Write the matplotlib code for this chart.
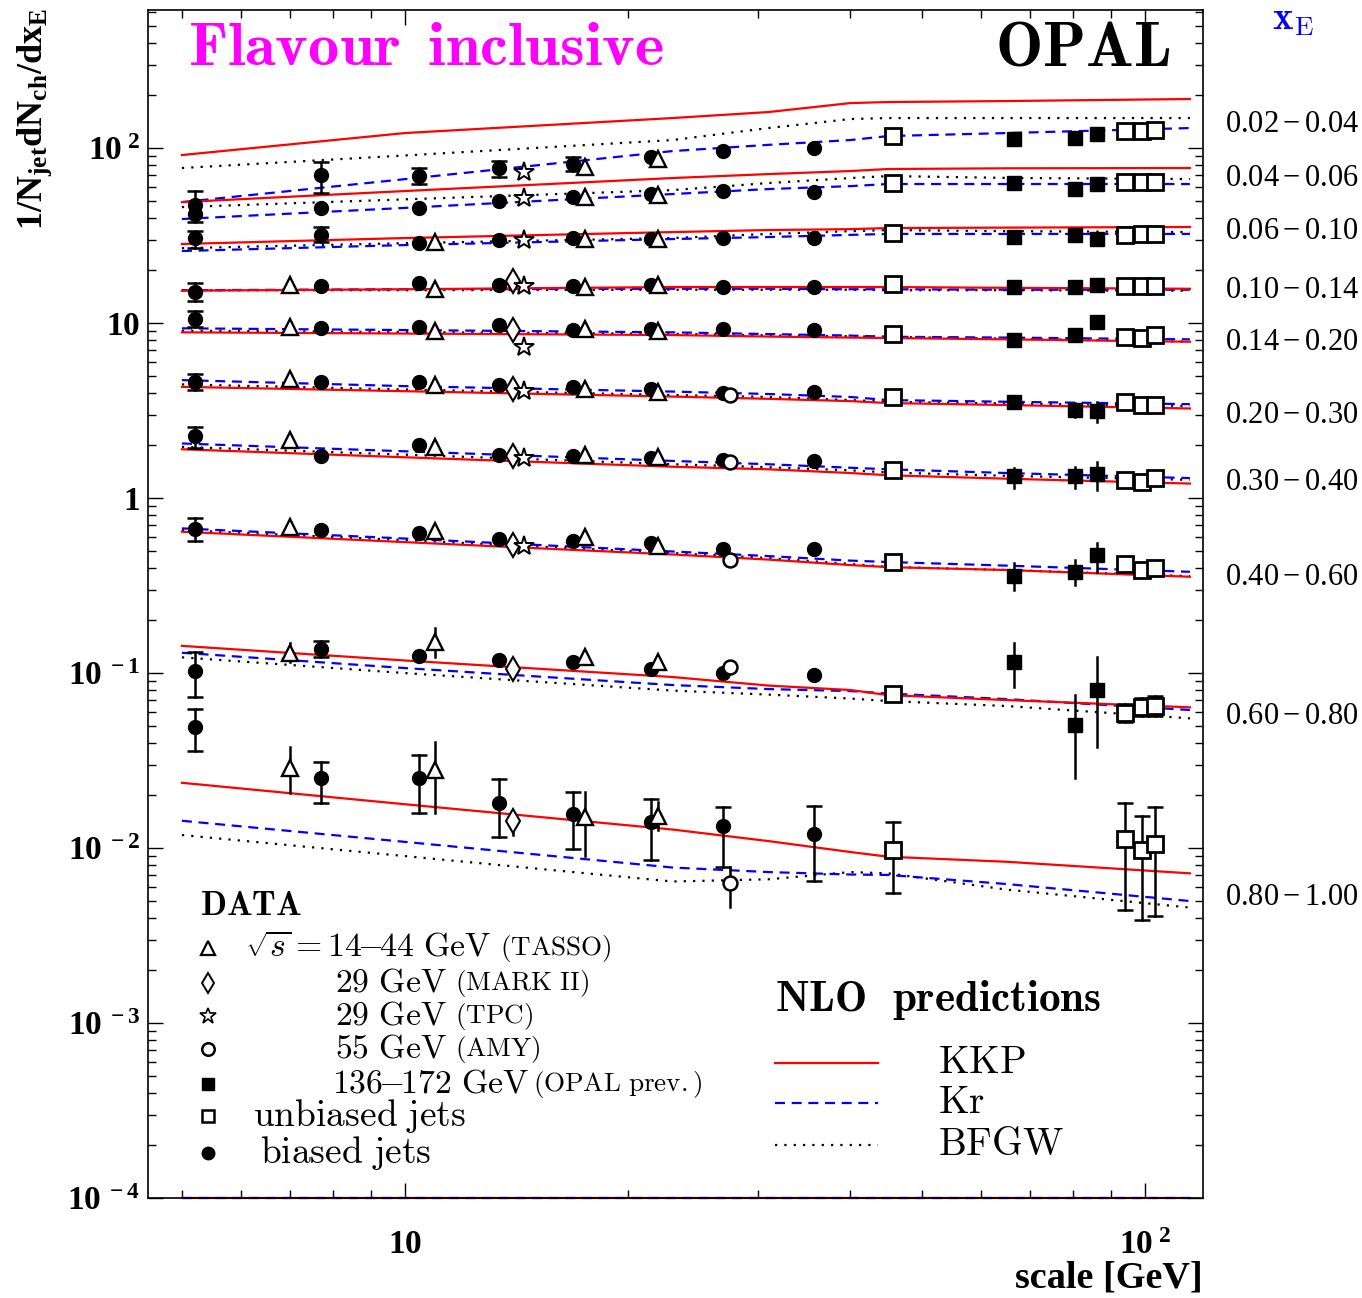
import numpy as np
import matplotlib
matplotlib.use('Agg')
from matplotlib import pyplot as plt
from matplotlib.ticker import LogLocator, NullFormatter

plt.rcParams['font.family'] = 'Liberation Serif'
plt.rcParams['mathtext.fontset'] = 'custom'
plt.rcParams['mathtext.rm'] = 'Liberation Serif'
plt.rcParams['mathtext.it'] = 'Liberation Serif:italic'
plt.rcParams['mathtext.bf'] = 'Liberation Serif:bold'

# x_E bins, top to bottom
xe_bins = ['0.02-0.04', '0.04-0.06', '0.06-0.10', '0.10-0.14', '0.14-0.20',
           '0.20-0.30', '0.30-0.40', '0.40-0.60', '0.60-0.80', '0.80-1.00']
xe_label_y = [137, 67.4, 33.5, 15.4, 7.7, 2.98, 1.23, 0.35, 0.0567, 0.0052]

# NLO predictions (scale in GeV)
x_curve = [5.0, 10, 23, 31, 40, 45, 65, 115]
kkp = [
    [91.2, 121.8, 148.4, 160.6, 180.7, 183.2, 185.6, 190.6],
    [49.1, 56.8, 67.4, 71.0, 73.9, 75.9, 76.6, 76.9],
    [28.3, 30.6, 33.1, 34.0, 34.4, 34.9, 35.1, 35.4],
    [15.3, 15.6, 16.06, 16.06, 16.06, 16.06, 15.9, 15.7],
    [8.85, 8.71, 8.54, 8.37, 8.26, 8.21, 8.07, 7.82],
    [4.32, 4.08, 3.80, 3.69, 3.58, 3.49, 3.40, 3.25],
    [1.90, 1.71, 1.51, 1.46, 1.39, 1.35, 1.29, 1.21],
    [0.642, 0.560, 0.476, 0.445, 0.414, 0.403, 0.388, 0.355],
    [0.143, 0.118, 0.0949, 0.0848, 0.0800, 0.0748, 0.0701, 0.0637],
    [0.0236, 0.0178, 0.01276, 0.01096, 0.00949, 0.00892, 0.00835, 0.00717],
]
kr = [
    [49.1, 66.4, 96.1, 104.3, 111.1, 117.1, 121.8, 130.1],
    [39.3, 45.5, 54.6, 58.3, 60.6, 62.3, 62.3, 62.3],
    [25.8, 27.9, 30.2, 31.0, 31.9, 32.3, 32.3, 32.3],
    [15.4, 15.6, 15.7, 15.7, 15.6, 15.6, 15.5, 15.5],
    [9.33, 9.12, 8.85, 8.65, 8.48, 8.35, 8.26, 8.07],
    [4.72, 4.36, 4.06, 3.93, 3.78, 3.63, 3.55, 3.44],
    [2.05, 1.85, 1.63, 1.56, 1.49, 1.46, 1.39, 1.30],
    [0.671, 0.587, 0.495, 0.466, 0.439, 0.431, 0.411, 0.379],
    [0.1306, 0.1068, 0.0854, 0.0810, 0.0789, 0.0764, 0.0710, 0.0615],
    [0.01432, 0.01085, 0.00774, 0.00729, 0.00706, 0.00702, 0.00623, 0.00498],
]
bfgw = [
    [76.9, 90.7, 111.1, 130.1, 146.5, 148.4, 148.4, 148.4],
    [46.0, 50.9, 57.5, 63.1, 67.4, 69.2, 67.5, 66.5],
    [26.8, 28.6, 30.6, 32.3, 33.5, 34.0, 33.5, 33.1],
    [15.4, 15.4, 15.5, 15.5, 15.5, 15.4, 15.4, 15.3],
    [9.04, 8.88, 8.68, 8.50, 8.40, 8.33, 8.15, 7.82],
    [4.46, 4.17, 3.88, 3.78, 3.63, 3.55, 3.47, 3.36],
    [1.96, 1.77, 1.56, 1.50, 1.44, 1.40, 1.34, 1.27],
    [0.656, 0.575, 0.485, 0.454, 0.420, 0.404, 0.388, 0.358],
    [0.123, 0.100, 0.0794, 0.0753, 0.0715, 0.0692, 0.0648, 0.0551],
    [0.01187, 0.0090, 0.00644, 0.00663, 0.00729, 0.00717, 0.00579, 0.00457],
]

# biased jets (OPAL)
biased_x = [5.2, 7.7, 10.45, 13.4, 16.9, 21.5, 26.9, 35.7]
biased_y = [
    [47.2, 70.2, 69, 76.8, 81, 88.8, 96.1, 100],
    [42, 45.4, 45.4, 50, 52.7, 54.4, 57, 55.8],
    [30.5, 31.9, 28.5, 29.8, 30.5, 30.2, 30.5, 30.7],
    [15.0, 16.3, 17.0, 16.6, 16.3, 16.6, 16.1, 16.1],
    [10.6, 9.4, 9.5, 9.75, 9.1, 9.3, 9.2, 9.1],
    [4.63, 4.58, 4.63, 4.41, 4.3, 4.2, 4.0, 4.04],
    [2.26, 1.75, 2.0, 1.76, 1.73, 1.69, 1.64, 1.62],
    [0.665, 0.66, 0.63, 0.58, 0.57, 0.55, 0.51, 0.51],
    [0.103, 0.138, 0.125, 0.118, 0.115, 0.105, 0.0996, 0.0979],
    [0.0493, 0.0252, 0.0252, 0.0182, 0.0156, 0.0141, 0.0134, 0.0121],
]
biased_err = [  # (scale, low, high)
    (5.2, 37.8, 56.8), (7.7, 55.3, 83.2), (10.45, 62.3, 76.9), (13.4, 68.3, 84.3),
    (16.9, 73.9, 88.9), (5.2, 26.8, 33.5), (7.7, 28.9, 35.2), (5.2, 13.4, 16.9),
    (5.2, 9.53, 11.7), (5.2, 4.14, 5.12), (5.2, 1.94, 2.55), (5.2, 0.568, 0.772),
    (5.2, 0.0732, 0.1324), (5.2, 0.036, 0.0623), (7.7, 0.124, 0.153),
    (7.7, 0.018, 0.0311), (10.45, 0.0158, 0.034), (13.4, 0.0116, 0.0248),
    (16.9, 0.00984, 0.021), (21.5, 0.0086, 0.019), (26.9, 0.00776, 0.0172),
    (35.7, 0.0065, 0.0174),
]

# TASSO
tasso_x = [7.0, 11.0, 17.5, 22.0]
tasso_y = [
    [None, None, 77.8, 86.5],
    [None, None, 52.7, 54],
    [None, 28.9, 30.1, 30.1],
    [16.4, 15.7, 16.1, 16.6],
    [9.5, 9.0, 9.2, 9.0],
    [4.8, 4.44, 4.2, 4.04],
    [2.14, 1.97, 1.76, 1.71],
    [0.68, 0.65, 0.6, 0.53],
    [0.130, 0.151, 0.124, 0.115],
    [0.0288, 0.0280, 0.0151, 0.0152],
]
tasso_err = [(7.0, 0.116, 0.148), (7.0, 0.0206, 0.038), (11.0, 0.123, 0.182),
             (11.0, 0.0158, 0.0405), (17.5, 0.009, 0.021), (22.0, 0.0127, 0.0184)]

# MARK II, TPC, AMY
markii_x = [14.0]
markii_y = [[None], [None], [None], [17.4], [9.1], [4.2], [1.73], [0.54], [0.105], [0.0142]]
markii_err = [(14.0, 0.0119, 0.0161)]
tpc_x = [14.5]
tpc_y = [[73], [52], [29.8], [16.3], [7.3], [4.1], [1.69], [0.53], [None], [None]]
amy_x = [27.5]
amy_y = [[None], [None], [None], [None], [None], [3.9], [1.61], [0.44], [0.109], [0.0063]]
amy_err = [(27.5, 0.00462, 0.00782)]

# OPAL previous (136-172 GeV)
opalprev_x = [66.5, 80.4, 86.1]
opalprev_y = [
    [112.6, 114.5, 120],
    [62.9, 58.1, 62.3],
    [31.1, 31.8, 30.1],
    [16.0, 16.0, 16.4],
    [8.0, 8.6, 10.2],
    [3.54, 3.18, 3.15],
    [1.33, 1.33, 1.37],
    [0.36, 0.38, 0.47],
    [0.115, 0.0502, 0.0805],
    [None, None, None],
]
opalprev_err = [(80.4, 2.92, 3.48), (86.1, 2.73, 3.55), (66.5, 1.14, 1.48),
                (80.4, 1.14, 1.50), (86.1, 1.11, 1.61), (66.5, 0.298, 0.424),
                (80.4, 0.318, 0.442), (86.1, 0.379, 0.555), (66.5, 0.0836, 0.148),
                (80.4, 0.025, 0.0748), (86.1, 0.038, 0.123)]

# unbiased jets (OPAL)
unbiased_x = [45.6, 93.9, 99.1, 103.2]
unbiased_y = [
    [117, 125.6, 125.6, 126.8],
    [62.9, 63.7, 63.7, 63.7],
    [32.6, 31.8, 32.2, 32.2],
    [16.7, 16.2, 16.3, 16.3],
    [8.7, 8.3, 8.2, 8.6],
    [3.8, 3.55, 3.42, 3.42],
    [1.45, 1.26, 1.24, 1.3],
    [0.43, 0.42, 0.39, 0.40],
    [0.0755, 0.0590, 0.0642, 0.065],
    [0.0097, 0.0113, 0.0097, 0.0106],
]
unbiased_err = [(93.9, 0.0527, 0.0665), (99.1, 0.057, 0.0723), (103.2, 0.0565, 0.0743),
                (45.6, 0.0055, 0.014), (93.9, 0.00442, 0.018), (99.1, 0.00388, 0.0152),
                (103.2, 0.0041, 0.0172)]


fig = plt.figure(figsize=(13.62, 12.98), dpi=100)
ax = fig.add_axes([0.1087, 0.0770, 0.7746, 0.9153])
ax.set_xscale('log')
ax.set_yscale('log')
ax.set_xlim(4.5, 119.8)
ax.set_ylim(1e-4, 615)

# curves
for i in range(len(xe_bins)):
    ax.plot(x_curve, bfgw[i], color='black', lw=1.6, dashes=(1, 3.2), zorder=2)
    ax.plot(x_curve, kr[i], color='blue', lw=1.6, dashes=(4.5, 3), zorder=2)
    ax.plot(x_curve, kkp[i], color='red', lw=1.6, zorder=2)
# curves falling below the frame
ax.plot([5.0, 115], [1e-4, 1e-4], color='red', lw=1.6, clip_on=False, zorder=2)
ax.plot([5.0, 115], [1e-4, 1e-4], color='blue', lw=1.6, dashes=(4.5, 3), clip_on=False, zorder=2)


def draw_errors(errs, cap):
    for x, lo, hi in errs:
        ax.plot([x, x], [lo, hi], color='black', lw=1.8, zorder=3)
        if cap:
            ax.plot([x, x], [lo, hi], ls='none', marker='_', ms=11, mew=1.8,
                    color='black', zorder=3)


def draw_points(xs, rows, **style):
    for row in rows:
        px = [x for x, y in zip(xs, row) if y is not None]
        py = [y for y in row if y is not None]
        ax.plot(px, py, ls='none', zorder=4, **style)


draw_errors(biased_err, True)
draw_errors(tasso_err, False)
draw_errors(markii_err, False)
draw_errors(amy_err, False)
draw_errors(opalprev_err, False)
draw_errors(unbiased_err, True)

open_st = dict(mfc='white', mec='black', color='black')
draw_points(biased_x, biased_y, marker='o', ms=10, color='black')
draw_points(tasso_x, tasso_y, marker='^', ms=12, mew=1.7, **open_st)
draw_points(markii_x, markii_y, marker='d', ms=12, mew=1.5, **open_st)
draw_points(tpc_x, tpc_y, marker='*', ms=15, mew=1.4, **open_st)
draw_points(amy_x, amy_y, marker='o', ms=10, mew=1.8, **open_st)
draw_points(opalprev_x, opalprev_y, marker='s', ms=9.5, color='black')
draw_points(unbiased_x, unbiased_y, marker='s', ms=11, mew=2, **open_st)

# axes cosmetics
ax.set_xticks([10, 100], labels=[r'$\mathbf{10}$', r'$\mathbf{10^{\ 2}}$'])
ax.set_yticks([1e-4, 1e-3, 1e-2, 1e-1, 1, 10, 100],
              labels=[r'$\mathbf{10^{\ -4}}$', r'$\mathbf{10^{\ -3}}$', r'$\mathbf{10^{\ -2}}$',
                      r'$\mathbf{10^{\ -1}}$', r'$\mathbf{1}$', r'$\mathbf{10}$',
                      r'$\mathbf{10^{\ 2}}$'])
for axis in (ax.xaxis, ax.yaxis):
    axis.set_minor_locator(LogLocator(base=10, subs=np.arange(2, 10), numticks=60))
    axis.set_minor_formatter(NullFormatter())
ax.tick_params(which='both', direction='in', top=True, right=True, width=1, labelsize=24)
ax.tick_params(which='major', length=11)
ax.tick_params(which='minor', length=5.5)
ax.tick_params(axis='x', pad=23)
ax.tick_params(axis='y', pad=6)
for s in ax.spines.values():
    s.set_linewidth(1.2)

fig.text(35 / 1362, 1 - 8 / 1298, r'$\mathbf{1/N_{jet}dN_{ch}/dx_{E}}$', rotation=90,
         ha='center', va='top', fontsize=26)
ax.set_xlabel('scale [GeV]', fontsize=27.5, fontweight='bold', loc='right', labelpad=0)

T = ax.transAxes


def cm_text(x, y, s, size, **kw):
    # in-frame annotations are typeset in Computer Modern
    ax.text(x, y, s, transform=T, fontsize=size, math_fontfamily='cm',
            va='center', ha='left', clip_on=False, **kw)


cm_text(0.0379, 0.966, r'$\mathbf{Flavour\ \,inclusive}$', 45, color='magenta')
cm_text(0.803, 0.966, r'$\mathbf{OPAL}$', 45.5, color='black')

# x_E bin labels on the right
yt = ax.get_yaxis_transform()
for lab, y in zip(xe_bins, xe_label_y):
    lo, hi = lab.split('-')
    ax.text(1.021, y, r'$%s-%s$' % (lo, hi), transform=yt, fontsize=22,
            va='center', ha='left', clip_on=False)
cm_text(1.065, 0.9916, r'$\mathbf{x}_{\mathrm{E}}$', 28, color='blue')

# data legend
cm_text(0.0493, 0.245, r'$\mathbf{DATA}$', 24.5)
rows_y = [0.2104, 0.181, 0.1532, 0.1254, 0.096, 0.0688, 0.0382]
keys = [dict(marker='^', ms=10, mew=1.6, **open_st),
        dict(marker='d', ms=10, mew=1.4, **open_st),
        dict(marker='*', ms=12, mew=1.2, **open_st),
        dict(marker='o', ms=9, mew=1.8, **open_st),
        dict(marker='s', ms=8, color='black'),
        dict(marker='s', ms=8, mew=1.8, **open_st),
        dict(marker='o', ms=9, color='black')]
for y, k in zip(rows_y, keys):
    ax.plot([0.0569], [y], transform=T, ls='none', clip_on=False, **k)
main_txt = [(0.0919, r'$\sqrt{s} = \mathrm{14\!\!-\!\!44\ GeV}$', 0.3336, r'$\mathrm{(TASSO)}$'),
            (0.1773, r'$\mathrm{29\ GeV}$', 0.291, r'$\mathrm{(MARK\ II)}$'),
            (0.1773, r'$\mathrm{29\ GeV}$', 0.291, r'$\mathrm{(TPC)}$'),
            (0.1773, r'$\mathrm{55\ GeV}$', 0.291, r'$\mathrm{(AMY)}$'),
            (0.1744, r'$\mathrm{136\!\!-\!\!172\ GeV}$', 0.365, r'$\mathrm{(OPAL\ prev.)}$')]
for y, (xa, t1, xb, t2) in zip(rows_y, main_txt):
    cm_text(xa, y, t1, 24.3)
    cm_text(xb, y, t2, 19.5)
cm_text(0.0995, rows_y[5], r'$\mathrm{unbiased\ jets}$', 27)
cm_text(0.1062, rows_y[6], r'$\mathrm{biased\ jets}$', 27)

# NLO legend
cm_text(0.594, 0.1667, r'$\mathbf{NLO\ \ predictions}$', 31)
nlo_y = [0.1136, 0.080, 0.0446]
ax.plot([0.594, 0.692], [nlo_y[0]] * 2, transform=T, color='red', lw=1.6)
ax.plot([0.594, 0.692], [nlo_y[1]] * 2, transform=T, color='blue', lw=1.6, dashes=(4.5, 3))
ax.plot([0.594, 0.692], [nlo_y[2]] * 2, transform=T, color='black', lw=1.6, dashes=(1, 3.2))
for y, t in zip(nlo_y, ['KKP', 'Kr', 'BFGW']):
    cm_text(0.749, y, r'$\mathrm{%s}$' % t, 28.3)

fig.savefig('out.png', dpi=100)
